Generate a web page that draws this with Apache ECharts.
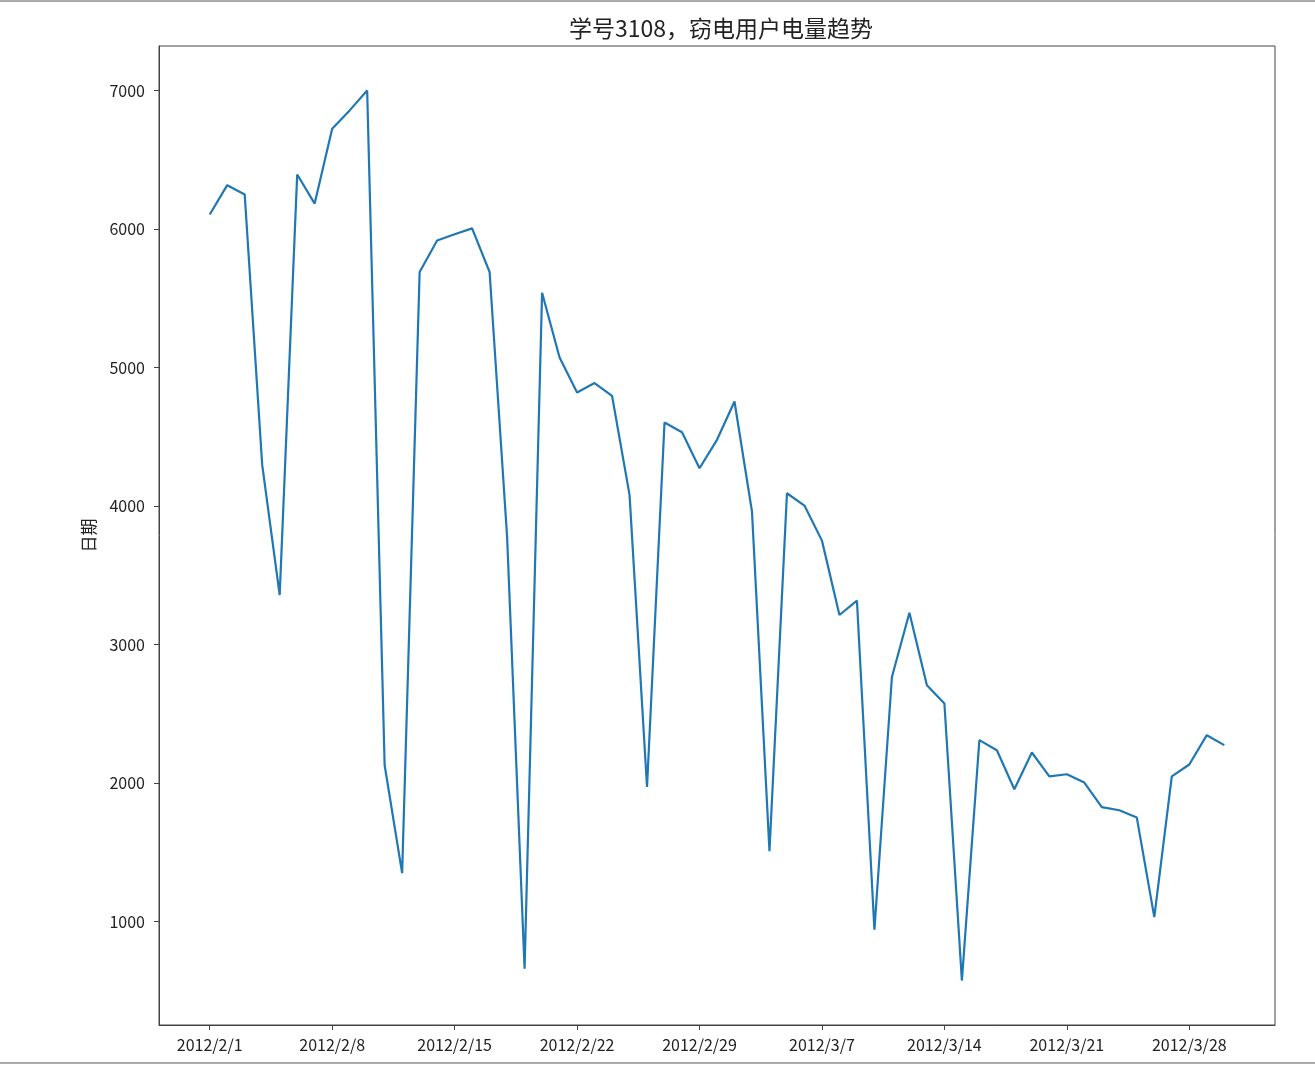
<!DOCTYPE html>
<html>
<head>
<meta charset="utf-8">
<script src="https://cdn.jsdelivr.net/npm/echarts@6/dist/echarts.min.js"></script>
<style>
html, body { margin: 0; padding: 0; background: #fff; }
#main { width: 1315px; height: 1066px; }
</style>
</head>
<body>
<div id="main"></div>
<script>
// 日期 (2012/2/1 - 2012/3/30)
const dates = [
    '2012/2/1', '2012/2/2', '2012/2/3', '2012/2/4', '2012/2/5', '2012/2/6', '2012/2/7',
    '2012/2/8', '2012/2/9', '2012/2/10', '2012/2/11', '2012/2/12', '2012/2/13', '2012/2/14',
    '2012/2/15', '2012/2/16', '2012/2/17', '2012/2/18', '2012/2/19', '2012/2/20', '2012/2/21',
    '2012/2/22', '2012/2/23', '2012/2/24', '2012/2/25', '2012/2/26', '2012/2/27', '2012/2/28',
    '2012/2/29', '2012/3/1', '2012/3/2', '2012/3/3', '2012/3/4', '2012/3/5', '2012/3/6',
    '2012/3/7', '2012/3/8', '2012/3/9', '2012/3/10', '2012/3/11', '2012/3/12', '2012/3/13',
    '2012/3/14', '2012/3/15', '2012/3/16', '2012/3/17', '2012/3/18', '2012/3/19', '2012/3/20',
    '2012/3/21', '2012/3/22', '2012/3/23', '2012/3/24', '2012/3/25', '2012/3/26', '2012/3/27',
    '2012/3/28', '2012/3/29', '2012/3/30'
];
// 用电量
const usage = [
    6105, 6317, 6249, 4297, 3357, 6394, 6184,
    6724, 6857, 7001, 2128, 1349, 5690, 5917,
    5962, 6005, 5690, 3779, 658, 5540, 5073,
    4820, 4888, 4796, 4080, 1971, 4603, 4533,
    4273, 4478, 4755, 3960, 1508, 4092, 4003,
    3750, 3213, 3316, 940, 2765, 3229, 2706,
    2574, 573, 2309, 2236, 1954, 2220, 2048,
    2063, 2003, 1826, 1803, 1750, 1031, 2048,
    2133, 2345, 2273
];
// 刻度：每7天一个日期标签
const xTickIdx = [0, 7, 14, 21, 28, 35, 42, 49, 56];
const yTicks = [1000, 2000, 3000, 4000, 5000, 6000, 7000];

const font = "'Noto Sans CJK SC', 'Noto Sans', sans-serif";
const chart = echarts.init(document.getElementById('main'));
chart.setOption({
    animation: false,
    title: {
        text: '学号3108，窃电用户电量趋势',
        left: 716,
        top: 12,
        textAlign: 'center',
        textStyle: { fontFamily: font, fontSize: 23, fontWeight: 'normal', color: '#222' }
    },
    grid: {
        left: 159, right: 40, top: 46, bottom: 41,
        show: true, borderColor: '#444', borderWidth: 1
    },
    xAxis: {
        type: 'value',
        min: -2.9,
        max: 60.9,
        axisLine: { onZero: false, lineStyle: { color: '#444' } },
        axisTick: { customValues: xTickIdx, length: 5, lineStyle: { color: '#444' } },
        axisLabel: {
            customValues: xTickIdx,
            formatter: v => dates[v],
            margin: 12,
            fontFamily: font, fontSize: 16, color: '#222'
        },
        splitLine: { show: false }
    },
    yAxis: {
        type: 'value',
        min: 252,
        max: 7322,
        name: '日期',
        nameLocation: 'middle',
        nameGap: 62,
        nameTextStyle: { fontFamily: font, fontSize: 17, color: '#222' },
        axisLine: { show: true, onZero: false, lineStyle: { color: '#444' } },
        axisTick: { customValues: yTicks, length: 5, lineStyle: { color: '#444' } },
        axisLabel: {
            customValues: yTicks,
            formatter: v => String(v),
            margin: 14,
            fontFamily: font, fontSize: 16, color: '#222'
        },
        splitLine: { show: false }
    },
    series: [
        {
            type: 'line',
            data: usage.map((v, i) => [i, v]),
            showSymbol: false,
            lineStyle: { color: '#1f77b4', width: 2.2 }
        }
    ],
    graphic: [
        { type: 'line', shape: { x1: 0, y1: 1, x2: 1315, y2: 1 }, style: { stroke: '#aaa', lineWidth: 2 } },
        { type: 'line', shape: { x1: 0, y1: 1063, x2: 1315, y2: 1063 }, style: { stroke: '#aaa', lineWidth: 2 } }
    ]
});
</script>
</body>
</html>
